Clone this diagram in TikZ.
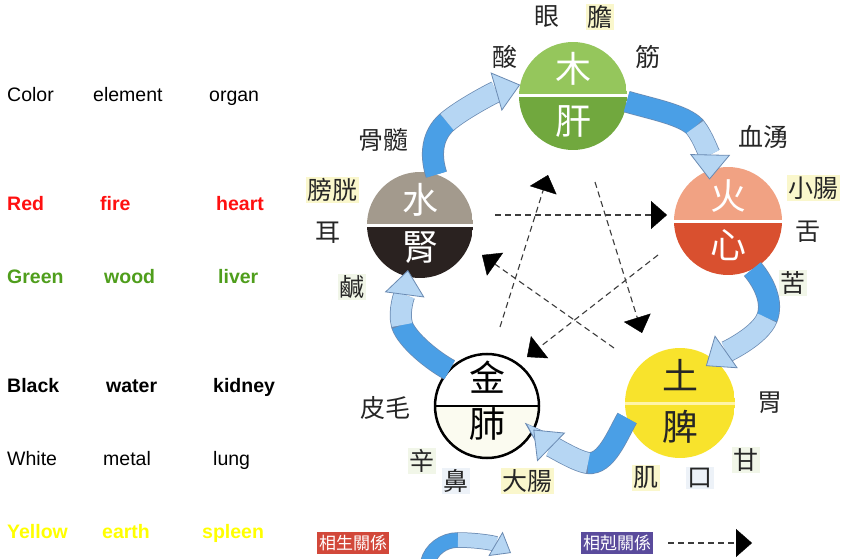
\documentclass[tikz,border=0pt]{standalone}
\usepackage{fontspec}
\setmainfont{Liberation Sans}
\newfontfamily\cjk{Noto Sans CJK TC}
\usetikzlibrary{arrows.meta,calc}
\definecolor{woodA}{HTML}{95C65C}
\definecolor{woodB}{HTML}{71A83E}
\definecolor{fireA}{HTML}{F1A283}
\definecolor{fireB}{HTML}{D9502F}
\definecolor{waterA}{HTML}{A39A8D}
\definecolor{waterB}{HTML}{2A2220}
\definecolor{metalB}{HTML}{FBFBF0}
\definecolor{earthA}{HTML}{F8E32C}
\definecolor{earthL}{HTML}{FFF4A8}
\definecolor{rbDark}{HTML}{4A9FE6}
\definecolor{rbLight}{HTML}{B6D6F3}
\definecolor{rbEdge}{HTML}{6A8AB2}
\definecolor{tintY}{HTML}{FAF7CC}
\definecolor{tintG}{HTML}{F1F6E8}
\definecolor{tintB}{HTML}{EDF2F8}
\definecolor{txtRed}{HTML}{FF1010}
\definecolor{txtGreen}{HTML}{4F9E1C}
\definecolor{txtYellow}{HTML}{FFFF00}
\definecolor{legRed}{HTML}{D2483A}
\definecolor{legPurple}{HTML}{5A4B9C}
\definecolor{dashgray}{HTML}{3C3C3C}
\newcommand\ribbonpath[7]{%
  \draw[rbout] (#1) .. controls (#2) and (#3) .. (#4) .. controls (#5) and (#6) .. (#7);
  \draw[rbdark] (#1) .. controls (#2) and (#3) .. (#4);
  \draw[rblight] (#4) .. controls (#5) and (#6) .. (#7);}
\begin{document}
\begin{tikzpicture}[x=1pt,y=-1pt,
  twotone/.style n args={3}{circle, inner sep=0pt, outer sep=0pt, path picture={
     \fill[#1] (path picture bounding box.north west) rectangle (path picture bounding box.east);
     \fill[#2] (path picture bounding box.west) rectangle (path picture bounding box.south east);
     \draw[#3] (path picture bounding box.west) -- (path picture bounding box.east);}},
  bigchar/.style={font=\cjk\fontsize{36}{40}\selectfont, inner sep=0pt},
  lab/.style={font=\cjk\fontsize{25}{28}\selectfont, inner sep=1.5pt, text=black!85},
  eng/.style={font=\fontsize{19.5}{23}\selectfont, anchor=base west, inner sep=0pt},
  engb/.style={font=\bfseries\fontsize{19.5}{23}\selectfont, anchor=base west, inner sep=0pt},
  legbox/.style={font=\cjk\fontsize{17}{19}\selectfont, text=white, minimum width=72pt, minimum height=22pt, inner sep=0pt},
  rbout/.style={draw=rbEdge, line width=22pt, shorten >=25pt},
  rbdark/.style={draw=rbDark, line width=20.5pt},
  rblight/.style={draw=rbLight, line width=20.5pt, -{Triangle[width=40pt,length=25pt,line width=0.8pt,fill=rbLight,color=rbEdge]}},
  kearrow/.style={draw=dashgray, line width=1.1pt, dash pattern=on 6pt off 4pt, -{Triangle[width=28pt,length=16pt,line width=0.4pt,fill=black,color=black]}}
]
\useasboundingbox (0,0) rectangle (852,559);
\fill[white] (0,0) rectangle (852,559);

% left table
\node[eng] (hC) at (7,102) {Color};
\node[eng] (hE) at (93,102) {element};
\node[eng] (hO) at (209,102) {organ};
\node[engb, text=txtRed] (rC) at (7,211) {Red};
\node[engb, text=txtRed] (rE) at (100,211) {fire};
\node[engb, text=txtRed] (rO) at (216,211) {heart};
\node[engb, text=txtGreen] (gC) at (7,283) {Green};
\node[engb, text=txtGreen] (gE) at (104,283) {wood};
\node[engb, text=txtGreen] (gO) at (218,283) {liver};
\node[engb] (bC) at (7,392) {Black};
\node[engb] (bE) at (106,392) {water};
\node[engb] (bO) at (213,392) {kidney};
\node[eng] (wC) at (7,465) {White};
\node[eng] (wE) at (103,465) {metal};
\node[eng] (wO) at (213,465) {lung};
\node[engb, text=txtYellow] (yC) at (7,538) {Yellow};
\node[engb, text=txtYellow] (yE) at (102,538) {earth};
\node[engb, text=txtYellow] (yO) at (202,538) {spleen};

% element circles
\node[twotone={woodA}{woodB}{white, line width=3pt}, minimum size=108pt] (wood) at (573,96) {};
\node[twotone={fireA}{fireB}{white, line width=3pt}, minimum size=108pt] (fire) at (728,221) {};
\node[twotone={waterA}{waterB}{white, line width=3pt}, minimum size=106pt] (water) at (420,225) {};
\node[twotone={white}{metalB}{black, line width=2.5pt}, draw=black, line width=2.5pt, minimum size=104pt] (metal) at (487,406) {};
\node[twotone={earthA}{earthA}{earthL, line width=3pt}, minimum size=110pt] (earth) at (680,403) {};

\node[bigchar, text=white] (woodU) at (573,69) {木};
\node[bigchar, text=white] (woodD) at (573,122) {肝};
\node[bigchar, text=white] (fireU) at (728,196) {火};
\node[bigchar, text=white] (fireD) at (728,245) {心};
\node[bigchar, text=white] (waterU) at (420,200) {水};
\node[bigchar, text=white] (waterD) at (420,248) {腎};
\node[bigchar, text=black] (metalU) at (487,377) {金};
\node[bigchar, text=black] (metalD) at (487,424) {肺};
\node[bigchar, text=black!85] (earthU) at (680,375) {土};
\node[bigchar, text=black!85] (earthD) at (680,427) {脾};

% surrounding labels
\node[lab] (l1) at (547,17) {眼};
\node[lab, fill=tintY] (l2) at (600,17) {膽};
\node[lab] (l3) at (505,57) {酸};
\node[lab] (l4) at (648,57) {筋};
\node[lab] (l5) at (383,140) {骨髓};
\node[lab] (l6) at (763,137) {血湧};
\node[lab, fill=tintY] (l7) at (332,190) {膀胱};
\node[lab, fill=tintY] (l8) at (813,188) {小腸};
\node[lab] (l9) at (328,233) {耳};
\node[lab] (l10) at (808,232) {舌};
\node[lab, fill=tintG] (l11) at (352,287) {鹹};
\node[lab, fill=tintG] (l12) at (793,283) {苦};
\node[lab] (l13) at (385,408) {皮毛};
\node[lab] (l14) at (770,403) {胃};
\node[lab, fill=tintG] (l15) at (422,461) {辛};
\node[lab, fill=tintG] (l16) at (746,460) {甘};
\node[lab, fill=tintB] (l17) at (456,481) {鼻};
\node[lab, fill=tintY] (l18) at (527,481) {大腸};
\node[lab, fill=tintY] (l19) at (646,478) {肌};
\node[lab, fill=tintB] (l20) at (700,478) {口};

% controlling (dashed) relations
\coordinate (k1s) at (495,215); \coordinate (k1e) at (667,215);
\coordinate (k2s) at (500,327); \coordinate (k2e) at (548,175);
\coordinate (k3s) at (595,182); \coordinate (k3e) at (642,333);
\coordinate (k4s) at (614,348); \coordinate (k4e) at (482,255);
\coordinate (k5s) at (658,255); \coordinate (k5e) at (527,357);
\draw[kearrow] (k1s) -- (k1e);
\draw[kearrow] (k2s) -- (k2e);
\draw[kearrow] (k3s) -- (k3e);
\draw[kearrow] (k4s) -- (k4e);
\draw[kearrow] (k5s) -- (k5e);

% generating (ribbon) relations
\coordinate (mA) at (695,127);
\coordinate (hA) at ($(fire.center)!0.84!(fire.114)$);
\ribbonpath{wood.-6}{652,109}{684,115}{mA}{704,138}{710,158}{hA}
\coordinate (mB) at (767,318);
\coordinate (hB) at ($(earth.center)!0.82!(earth.55)$);
\ribbonpath{fire.-63}{765,284}{773,303}{mB}{760,336}{726,352}{hB}
\coordinate (mC) at (588,463);
\ribbonpath{earth.196}{617,436}{606,465}{mC}{574,461}{546,442}{metal.-27}
\coordinate (mD) at (402,325);
\coordinate (hD) at ($(water.center)!0.88!(water.255)$);
\ribbonpath{metal.136}{433,361}{407,340}{mD}{398,311}{405,292}{hD}
\coordinate (mE) at (447,122);
\ribbonpath{water.72}{430,155}{432,135}{mE}{462,109}{495,92}{wood.168}

% legend
\node[legbox, fill=legRed] (leg1) at (353,543) {相生關係};
\node[legbox, fill=legPurple] (leg2) at (617,543) {相剋關係};
\coordinate (lgT) at (428,562);
\coordinate (lgM) at (458,540);
\coordinate (lgH) at (511,553);
\draw[draw=rbEdge, line width=15.5pt, shorten >=18pt] (lgT) .. controls (431,550) and (443,540) .. (lgM) .. controls (476,540) and (494,543) .. (lgH);
\draw[draw=rbDark, line width=14pt] (lgT) .. controls (431,550) and (443,540) .. (lgM);
\draw[draw=rbLight, line width=14pt, -{Triangle[width=28pt,length=18pt,line width=0.8pt,fill=rbLight,color=rbEdge]}] (lgM) .. controls (476,540) and (494,543) .. (lgH);
\coordinate (ldS) at (668,543);
\coordinate (ldE) at (752,543);
\draw[kearrow] (ldS) -- (ldE);
\end{tikzpicture}
\end{document}
